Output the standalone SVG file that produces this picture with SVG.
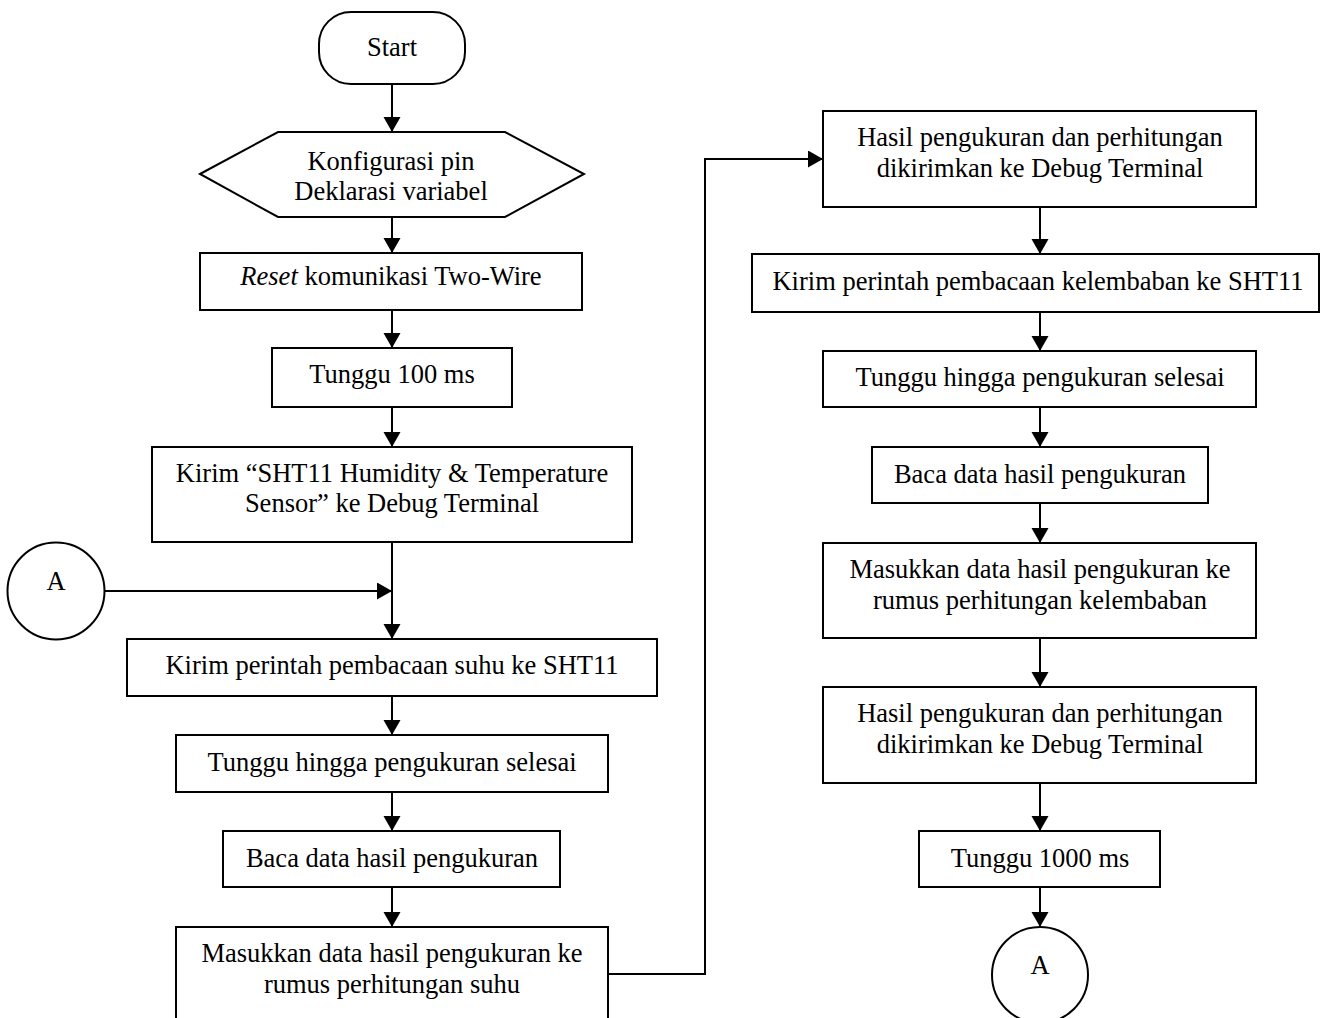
<svg xmlns="http://www.w3.org/2000/svg" width="1329" height="1018" viewBox="0 0 1329 1018">
<style>
.s{fill:#fff;stroke:#000;stroke-width:2}
.t{font-family:"Liberation Serif","Times New Roman",serif;font-size:26.5px;fill:#000;text-anchor:middle}
.c{fill:none;stroke:#000;stroke-width:2}
</style>
<defs>
<marker id="ah" markerUnits="userSpaceOnUse" markerWidth="16" markerHeight="18" refX="15" refY="8.5" orient="auto">
<path d="M0,0 L15,8.5 L0,17 Z" fill="#000"/>
</marker>
</defs>
<rect width="1329" height="1018" fill="#fff"/>
<g id="connectors">
<line class="c" x1="392" y1="84" x2="392" y2="132" marker-end="url(#ah)"/>
<line class="c" x1="392" y1="217" x2="392" y2="253" marker-end="url(#ah)"/>
<line class="c" x1="392" y1="310" x2="392" y2="348" marker-end="url(#ah)"/>
<line class="c" x1="392" y1="407" x2="392" y2="447" marker-end="url(#ah)"/>
<line class="c" x1="392" y1="542" x2="392" y2="639" marker-end="url(#ah)"/>
<line class="c" x1="104.5" y1="591" x2="392" y2="591" marker-end="url(#ah)"/>
<line class="c" x1="392" y1="696" x2="392" y2="735" marker-end="url(#ah)"/>
<line class="c" x1="392" y1="792" x2="392" y2="831" marker-end="url(#ah)"/>
<line class="c" x1="392" y1="887" x2="392" y2="927" marker-end="url(#ah)"/>
<polyline class="c" points="608,974 705,974 705,159 823,159" marker-end="url(#ah)"/>
<line class="c" x1="1040" y1="207" x2="1040" y2="254" marker-end="url(#ah)"/>
<line class="c" x1="1040" y1="312" x2="1040" y2="351" marker-end="url(#ah)"/>
<line class="c" x1="1040" y1="407" x2="1040" y2="447" marker-end="url(#ah)"/>
<line class="c" x1="1040" y1="503" x2="1040" y2="543" marker-end="url(#ah)"/>
<line class="c" x1="1040" y1="638" x2="1040" y2="687" marker-end="url(#ah)"/>
<line class="c" x1="1040" y1="783" x2="1040" y2="831" marker-end="url(#ah)"/>
<line class="c" x1="1040" y1="887" x2="1040" y2="927" marker-end="url(#ah)"/>
</g>
<g id="start">
<rect class="s" x="319" y="12" width="146" height="72" rx="32" ry="32"/>
<text class="t" x="392" y="56">Start</text>
</g>
<g id="init">
<polygon class="s" points="200,174 278,132 505,132 584,174 505,217 278,217"/>
<text class="t" x="391" y="170">Konfigurasi pin</text>
<text class="t" x="391" y="200">Deklarasi variabel</text>
</g>
<g id="reset">
<rect class="s" x="200" y="253" width="382" height="57"/>
<text class="t" x="391" y="285"><tspan font-style="italic">Reset</tspan> komunikasi Two-Wire</text>
</g>
<g id="wait100">
<rect class="s" x="272" y="348" width="240" height="59"/>
<text class="t" x="392" y="383">Tunggu 100 ms</text>
</g>
<g id="sendTitle">
<rect class="s" x="152" y="447" width="480" height="95"/>
<text class="t" x="392" y="482">Kirim “SHT11 Humidity &amp; Temperature</text>
<text class="t" x="392" y="512">Sensor” ke Debug Terminal</text>
</g>
<g id="connA1">
<circle class="s" cx="56" cy="591" r="48.5"/>
<text class="t" x="56" y="590">A</text>
</g>
<g id="cmdTemp">
<rect class="s" x="127" y="639" width="530" height="57"/>
<text class="t" x="392" y="674">Kirim perintah pembacaan suhu ke SHT11</text>
</g>
<g id="waitTemp">
<rect class="s" x="176" y="735" width="432" height="57"/>
<text class="t" x="392" y="771">Tunggu hingga pengukuran selesai</text>
</g>
<g id="readTemp">
<rect class="s" x="223" y="831" width="337" height="56"/>
<text class="t" x="392" y="867">Baca data hasil pengukuran</text>
</g>
<g id="calcTemp">
<rect class="s" x="176" y="927" width="432" height="110"/>
<text class="t" x="392" y="962">Masukkan data hasil pengukuran ke</text>
<text class="t" x="392" y="993">rumus perhitungan suhu</text>
</g>
<g id="sendTemp">
<rect class="s" x="823" y="111" width="433" height="96"/>
<text class="t" x="1040" y="146">Hasil pengukuran dan perhitungan</text>
<text class="t" x="1040" y="177">dikirimkan ke Debug Terminal</text>
</g>
<g id="cmdHum">
<rect class="s" x="752" y="254" width="567" height="58"/>
<text class="t" x="1038" y="290">Kirim perintah pembacaan kelembaban ke SHT11</text>
</g>
<g id="waitHum">
<rect class="s" x="823" y="351" width="433" height="56"/>
<text class="t" x="1040" y="386">Tunggu hingga pengukuran selesai</text>
</g>
<g id="readHum">
<rect class="s" x="872" y="447" width="336" height="56"/>
<text class="t" x="1040" y="483">Baca data hasil pengukuran</text>
</g>
<g id="calcHum">
<rect class="s" x="823" y="543" width="433" height="95"/>
<text class="t" x="1040" y="578">Masukkan data hasil pengukuran ke</text>
<text class="t" x="1040" y="609">rumus perhitungan kelembaban</text>
</g>
<g id="sendHum">
<rect class="s" x="823" y="687" width="433" height="96"/>
<text class="t" x="1040" y="722">Hasil pengukuran dan perhitungan</text>
<text class="t" x="1040" y="753">dikirimkan ke Debug Terminal</text>
</g>
<g id="wait1000">
<rect class="s" x="919" y="831" width="241" height="56"/>
<text class="t" x="1040" y="867">Tunggu 1000 ms</text>
</g>
<g id="connA2">
<circle class="s" cx="1040" cy="975" r="48"/>
<text class="t" x="1040" y="974">A</text>
</g>
</svg>
